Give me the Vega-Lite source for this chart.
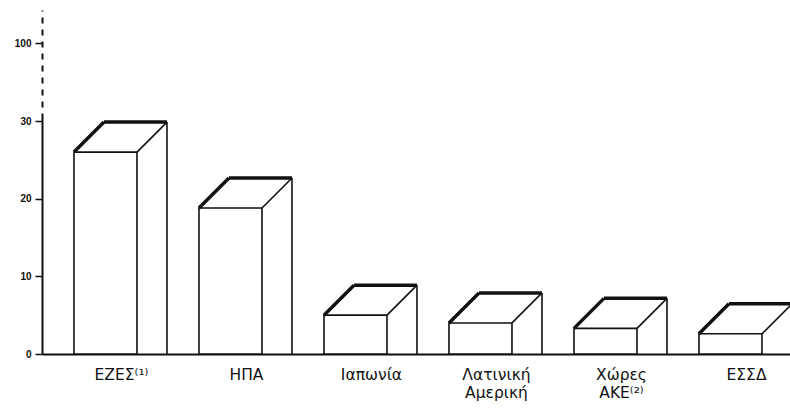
{
  "$schema": "https://vega.github.io/schema/vega-lite/v6.json",
  "width": 748,
  "height": 344,
  "autosize": {"type": "none"},
  "padding": {"left": 42, "top": 10, "right": 0, "bottom": 56},
  "background": "white",
  "config": {"view": {"stroke": null}, "font": "Liberation Sans"},
  "data": {"values": [
    {"c": "ΕΖΕΣ⁽¹⁾", "v": 26.0},
    {"c": "ΗΠΑ", "v": 18.8},
    {"c": "Ιαπωνία", "v": 5.0},
    {"c": "Λατινική|Αμερική", "v": 4.0},
    {"c": "Χώρες|ΑΚΕ⁽²⁾", "v": 3.3},
    {"c": "ΕΣΣΔ", "v": 2.6}
  ]},
  "encoding": {
    "x": {"field": "c", "type": "nominal", "sort": null,
      "scale": {"paddingInner": 0.496, "paddingOuter": 0.24, "align": 0.533},
      "axis": {"title": null, "ticks": false, "domainColor": "#111", "domainWidth": 1.8,
        "labelAngle": 0, "labelOffset": 16, "labelPadding": 13, "labelFontSize": 15.5,
        "labelFont": "DejaVu Sans", "labelColor": "#111", "labelLineHeight": 18,
        "labelExpr": "split(datum.label, '|')"}},
    "y": {"field": "v", "type": "quantitative",
      "scale": {"domain": [0, 44.3], "nice": false, "zero": true},
      "axis": {"title": null, "grid": false, "domain": true, "domainColor": "#111", "domainWidth": 2,
        "domainDash": [241, 6, 6, 6, 6, 6, 6, 6, 6, 6, 6, 6, 6, 6, 6, 6, 6, 6],
        "values": [0, 10, 20, 30, 40],
        "labelExpr": "datum.value == 40 ? '100' : datum.value", "tickSize": 7, "tickColor": "#111",
        "tickWidth": 1.5, "labelFontSize": 10, "labelFontWeight": "bold", "labelColor": "#111", "labelPadding": 4}}
  },
  "layer": [
    {"mark": {"type": "bar", "fill": "white", "stroke": "#111", "strokeWidth": 1.6}},
    {"mark": {"type": "rule", "stroke": "#111", "strokeWidth": 3.5, "xOffset": -31.5, "x2Offset": -1.5, "y2Offset": -30},
      "encoding": {"x2": {"field": "c"}, "y2": {"field": "v"}}},
    {"mark": {"type": "rule", "stroke": "#111", "strokeWidth": 1.6, "xOffset": 31.5, "x2Offset": 61.5, "y2Offset": -30},
      "encoding": {"x2": {"field": "c"}, "y2": {"field": "v"}}},
    {"mark": {"type": "rule", "stroke": "#111", "strokeWidth": 3.5, "xOffset": -1.5, "x2Offset": 61.5, "yOffset": -30, "y2Offset": -30},
      "encoding": {"x2": {"field": "c"}, "y2": {"field": "v"}}},
    {"mark": {"type": "rule", "stroke": "#111", "strokeWidth": 1.6, "xOffset": 61.5, "x2Offset": 61.5, "yOffset": -30},
      "encoding": {"x2": {"field": "c"}, "y2": {"datum": 0}}}
  ]
}
